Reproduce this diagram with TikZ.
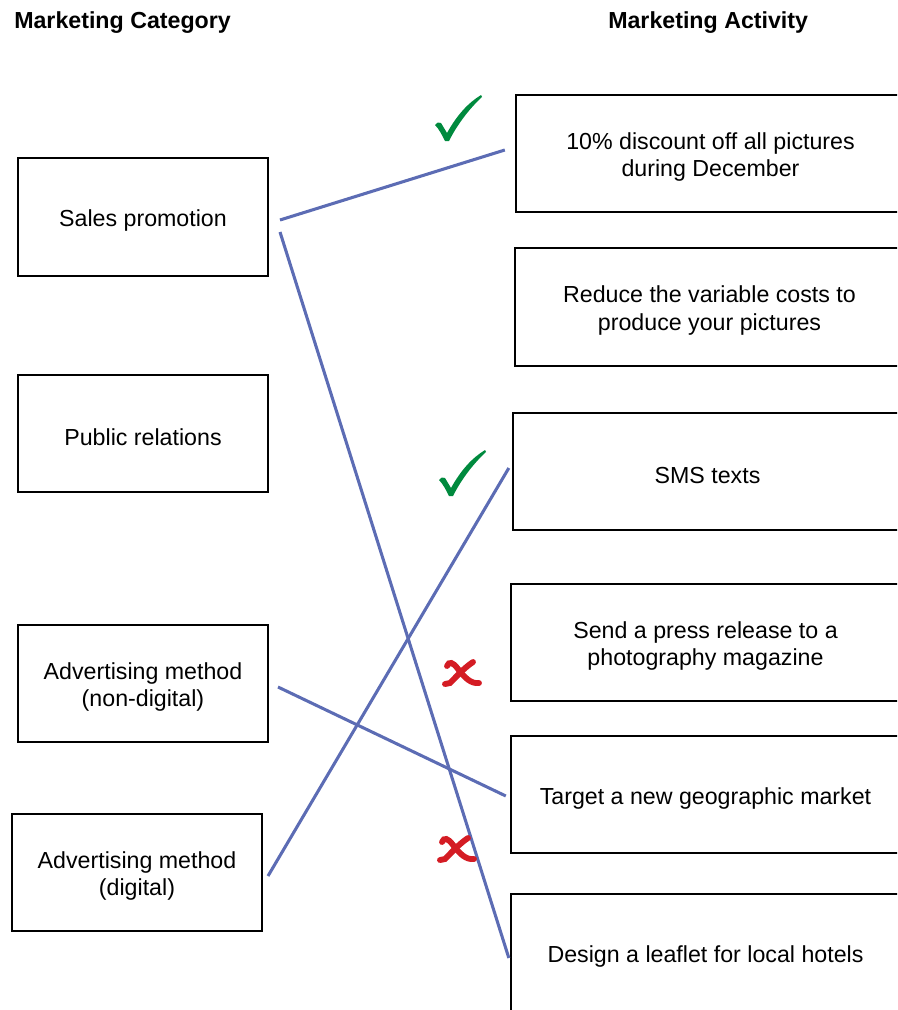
\documentclass[tikz,border=0pt]{standalone}
\usepackage{fontspec}
\setmainfont{Liberation Sans}
\usetikzlibrary{calc}
\definecolor{linkblue}{RGB}{92,108,180}
\definecolor{tickgreen}{RGB}{0,138,62}
\definecolor{crossred}{RGB}{212,28,36}
% taller first line, so that the text block sits a little lower in its box
\newcommand\tstrut{\rule{0pt}{18pt}}
\begin{document}
\begin{tikzpicture}[x=0.75pt,y=-0.75pt,
  box/.style={draw=black, line width=1.5pt, minimum width=187.5pt, minimum height=88pt,
    align=center, inner sep=0pt, font=\fontsize{17.4}{20.5}\selectfont},
  abox/.style={box, minimum width=292pt},
  link/.style={draw=linkblue, line width=2.3pt},
  head/.style={font=\bfseries\fontsize{17.4}{20.5}\selectfont, anchor=west, inner sep=0pt},
  tick/.pic={
    \fill[tickgreen] (0,30) .. controls (3,27) .. (6,28) -- (12,38)
      .. controls (22,20) and (33,8) .. (46,0) -- (47,2)
      .. controls (34,14) and (22,30) .. (14,46) -- (10,46)
      .. controls (7,40) and (4,34) .. (0,30) -- cycle;
  },
  cross/.pic={
    \draw[crossred, line width=4.4pt, line cap=round]
      (4,8) .. controls (6,3) and (10,4) .. (15,11) .. controls (22,20) and (28,26) .. (36,25);
    \draw[crossred, line width=4.4pt, line cap=round]
      (30,4) .. controls (21,10) and (13,19) .. (7,25) -- (2,26);
  }]
\useasboundingbox (0,0) rectangle (897,1010);
\clip (0,0) rectangle (897,1010);

% column headings
\node[head] (hcat) at (14,23) {Marketing Category};
\node[head] (hact) at (608,23) {Marketing Activity};

% categories
\node[box] (sales)  at (143,217)   {\tstrut Sales promotion};
\node[box] (pr)     at (143,433.5) {\tstrut Public relations};
\node[box] (nondig) at (143,683.5) {\tstrut Advertising method\\(non-digital)};
\node[box] (dig)    at (137,872.5) {\tstrut Advertising method\\(digital)};

% activities
\node[abox] (disc)    at (710.5,153.5) {\tstrut 10\% discount off all pictures\\during December};
\node[abox] (reduce)  at (709.5,307)   {\tstrut Reduce the variable costs to\\produce your pictures};
\node[abox] (sms)     at (707.5,471.5) {\tstrut SMS texts};
\node[abox] (press)   at (705.5,642.5) {\tstrut Send a press release to a\\photography magazine};
\node[abox] (target)  at (705.5,794.5) {\tstrut Target a new geographic market};
\node[abox] (leaflet) at (705.5,952.5) {\tstrut Design a leaflet for local hotels};

% matching lines
\draw[link] ($(sales.east)+(11,3)$) -- ($(disc.west)+(-10,-3.5)$);
\draw[link] ($(sales.east)+(11,15)$) -- ($(leaflet.west)+(-1,5.5)$);
\draw[link] ($(dig.east)+(5,3.5)$) -- ($(sms.west)+(-3,-3.5)$);
\draw[link] ($(nondig.east)+(9,3.5)$) -- ($(target.west)+(-4,1.5)$);

% marks
\pic at (435,95) {tick};
\pic at (439,450) {tick};
\pic at (443,658) {cross};
\pic at (438,834) {cross};
\end{tikzpicture}
\end{document}
